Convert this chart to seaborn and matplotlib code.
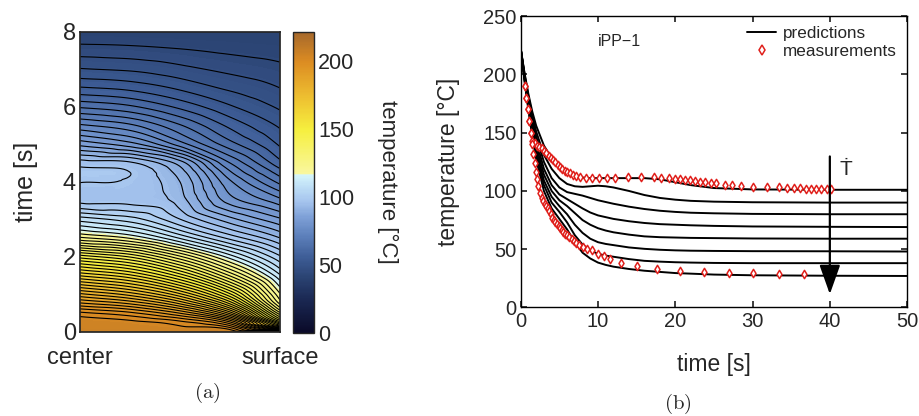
import numpy as np
import pandas as pd
import seaborn as sns
import matplotlib.pyplot as plt
import matplotlib.tri as mtri
from matplotlib.colors import LinearSegmentedColormap, Normalize
from matplotlib.cm import ScalarMappable
from matplotlib.lines import Line2D

# ---- (a) temperature field on a coarse grid
pos = [0.0, 0.25, 0.5, 0.75, 1.0]  # center -> surface
field_time = [0, 0.1, 0.25, 0.5, 0.75, 1.0, 1.5, 2.0, 2.5, 3.0, 3.5,
              4.0, 4.25, 4.5, 5.0, 5.5, 6.0, 6.5, 7.0, 7.5, 8.0]
field_temp = [
    [206, 206, 206, 205.5, 205],
    [205.5, 205, 203.5, 200, 170],
    [205, 203.5, 200.5, 191, 150],
    [200, 197, 190, 174, 134],
    [191, 187, 178, 160, 124],
    [182, 177, 167, 149, 119],
    [163, 158, 147, 130, 110],
    [144, 139, 128, 114, 101],
    [122, 118, 109, 99.5, 91.5],
    [108, 104.8, 97.5, 89.5, 83],
    [96.5, 96.3, 93, 81, 74.5],
    [97.6, 97, 91.5, 77, 66.5],
    [98.5, 97.5, 90, 74, 63],
    [96, 95, 87, 70.5, 59.5],
    [84.5, 80.7, 72, 62.7, 55],
    [74, 71.1, 64.8, 57.7, 52],
    [64, 62, 57.7, 52.9, 49],
    [55.8, 54.6, 51.9, 48.9, 46.5],
    [49.7, 49, 47.4, 45.7, 44.3],
    [45, 44.6, 43.8, 42.9, 42.2],
    [40.5, 40.4, 40.3, 40.2, 40],
]

# ---- (b) predicted cooling curves (one per cooling rate) and measurements
pred_time = [0, 0.5, 1, 1.5, 2, 3, 4, 5, 6, 7, 8, 9, 10, 11, 12, 14, 16, 18, 20, 22, 25, 30, 40, 50]
pred_1 = [222, 201, 183, 168, 156, 139, 128, 121, 116, 113, 111.5, 111, 111, 111, 111, 111, 111, 110, 107.5, 105, 102.5, 101.3, 101, 101]
pred_2 = [222, 200, 181, 165, 151, 131, 119, 111, 106, 104, 103.5, 104, 104.5, 104, 103, 100, 96.5, 94, 92.5, 91.5, 90.8, 90.3, 90, 90]
pred_3 = [222, 199, 179, 162, 147, 125, 111, 103, 99, 97.5, 96, 94, 92, 90.5, 89, 86.5, 84.5, 83, 82, 81.3, 80.8, 80.3, 80, 80]
pred_4 = [222, 198, 177, 159, 143, 119, 105, 97, 93, 89, 85, 81.5, 79, 77.5, 76, 74, 72.5, 71.5, 71, 70.5, 70, 69.5, 69.2, 69]
pred_5 = [222, 197, 175, 156, 139, 114, 100, 92, 87, 81, 75, 71, 68, 66, 64.5, 62.5, 61, 60.3, 60, 59.7, 59.5, 59.2, 59, 59]
pred_6 = [222, 196, 173, 153, 135, 109, 95, 87, 80, 71, 64, 59, 56, 54.5, 53.5, 51.5, 50.3, 49.5, 49, 48.7, 48.5, 48.3, 48.2, 48]
pred_7 = [222, 195, 171, 150, 131, 105, 90, 82, 73, 62, 54, 49, 46, 44.5, 43.5, 41.5, 40, 39.3, 38.8, 38.5, 38.2, 38, 38, 38]
pred_8 = [222, 194, 169, 147, 127, 100, 85, 76, 67, 56, 47, 42, 38.5, 36.5, 35, 33, 31.5, 30.5, 29.5, 29, 28.2, 27.6, 27.2, 27]

meas_hi_time = [0.5, 0.7, 0.9, 1.1, 1.3, 1.5, 1.8, 2.1, 2.4, 2.7, 3.0, 3.3, 3.6, 3.9, 4.2, 4.5, 4.8, 5.1,
                5.4, 5.7, 6.0, 6.4, 6.8, 7.2, 7.7, 8.4, 9.2, 10.1, 11.1, 12.2, 13.9, 15.6, 17.2, 18.2,
                19.2, 20.0, 20.6, 21.3, 21.9, 22.5, 23.2, 23.9, 24.6, 25.3, 26.4, 27.4, 28.5, 30.0,
                31.9, 33.4, 34.5, 35.3, 36.1, 36.9, 37.5, 38.2, 38.9, 39.6, 40.1]
meas_hi_temp = [190, 180, 170, 160, 150, 143, 141, 139, 138, 136.5, 134.5, 132.5, 130, 128, 126.5, 124.5,
                122.5, 120.7, 119, 117.5, 116.4, 115, 113.6, 113, 112, 111.5, 111, 111, 111, 111.5, 112,
                112, 112, 111.5, 111, 110.5, 110, 109.5, 109, 108.5, 108, 107.5, 107, 106.5, 105.5, 105,
                104, 103.5, 103.5, 103, 102.5, 102.5, 102.5, 102, 102, 102, 102, 102, 102]
meas_lo_time = [0.5, 0.7, 0.9, 1.1, 1.3, 1.5, 1.65, 1.8, 1.95, 2.1, 2.3, 2.5, 2.7, 2.9, 3.1, 3.3, 3.5,
                3.7, 3.9, 4.1, 4.3, 4.5, 4.7, 4.9, 5.1, 5.3, 5.5, 5.75, 6.0, 6.3, 6.6, 6.9, 7.2, 7.6,
                8.1, 8.6, 9.2, 10.0, 10.8, 11.6, 13.0, 15.0, 17.6, 20.6, 23.7, 26.9, 30.1, 33.4, 36.6]
meas_lo_temp = [190, 180, 170, 160, 150, 140, 132, 124, 116, 110, 104, 98, 94, 91, 89, 87, 85, 83, 80,
                77, 75, 73, 71.5, 70, 68, 66.5, 65, 63, 62, 60.5, 59, 57, 55, 54, 52, 50.5, 49, 46,
                44, 42, 38.5, 35.5, 33, 31.5, 30, 29.5, 29.3, 29, 28.3]

sns.set_theme(style="ticks")
plt.rcParams["font.family"] = ["Liberation Sans", "DejaVu Sans"]
plt.rcParams["mathtext.fontset"] = "cm"
plt.rcParams["xtick.direction"] = "in"
plt.rcParams["ytick.direction"] = "in"

fig = plt.figure(figsize=(9.2, 4.16), dpi=100)
ax1 = fig.add_axes([0.087, 0.203, 0.217, 0.721])
cax = fig.add_axes([0.319, 0.200, 0.022, 0.724])
ax2 = fig.add_axes([0.566, 0.261, 0.420, 0.700])

# colormap: dark navy -> light blue, jump to pale yellow -> orange -> brown
tmax = 222
cmap = LinearSegmentedColormap.from_list("temp", [
    (0.0, "#0a0a28"), (25 / tmax, "#1b2954"), (40 / tmax, "#2a4271"),
    (55 / tmax, "#3d5c95"), (70 / tmax, "#5a7db8"), (85 / tmax, "#7d9fd6"),
    (97 / tmax, "#a6c5ee"), (108 / tmax, "#bfdff6"), (116.5 / tmax, "#d6f6fb"),
    (117 / tmax, "#f9f7a0"), (150 / tmax, "#f6ef3e"), (175 / tmax, "#edbd30"),
    (200 / tmax, "#dc8c22"), (1.0, "#a5682c")])
norm = Normalize(0, tmax)

# smooth the coarse grid with matplotlib's own cubic refiner (grid scaled to square cells)
X, Y = np.meshgrid(pos, field_time)
tri = mtri.Triangulation(X.ravel() * 8, Y.ravel())
interp = mtri.CubicTriInterpolator(tri, np.array(field_temp, dtype=float).ravel(), kind="geom")
refiner = mtri.UniformTriRefiner(tri)
tri_f, z_f = refiner.refine_field(np.array(field_temp, dtype=float).ravel(),
                                  triinterpolator=interp, subdiv=4)
tri_f = mtri.Triangulation(tri_f.x / 8, tri_f.y, tri_f.triangles)

ax1.tricontourf(tri_f, z_f, levels=np.linspace(0, tmax, 150), cmap=cmap, norm=norm)
ax1.tricontour(tri_f, z_f, levels=np.arange(40.5 + 3, 204, 3), colors="black", linewidths=0.8)
ax1.set_xlim(0, 1)
ax1.set_ylim(0, 8)
ax1.set_xticks([0, 1])
ax1.set_xticklabels(["center", "surface"], fontsize=17)
ax1.set_yticks([0, 2, 4, 6, 8])
ax1.tick_params(axis="y", labelsize=17, length=0, pad=3)
ax1.tick_params(axis="x", length=0, pad=11)
ax1.set_ylabel("time [s]", fontsize=18, labelpad=18)

cb = fig.colorbar(ScalarMappable(norm=norm, cmap=cmap), cax=cax)
cb.set_ticks([0, 50, 100, 150, 200])
cb.ax.tick_params(labelsize=15.5, length=3, direction="in", pad=3)
cb.outline.set_linewidth(1.0)
cb.set_label("temperature [°C]", fontsize=16, rotation=270, labelpad=32)

# ---- (b)
curves = [pred_1, pred_2, pred_3, pred_4, pred_5, pred_6, pred_7, pred_8]
pred = pd.DataFrame({
    "time": np.tile(pred_time, len(curves)),
    "temp": np.concatenate(curves),
    "curve": np.repeat(np.arange(len(curves)), len(pred_time)),
})
sns.lineplot(data=pred, x="time", y="temp", units="curve", estimator=None,
             color="black", linewidth=1.4, ax=ax2, legend=False)

meas = pd.DataFrame({
    "time": meas_hi_time + meas_lo_time,
    "temp": meas_hi_temp + meas_lo_temp,
})
sns.scatterplot(data=meas, x="time", y="temp", marker="d", s=18, color="white",
                edgecolor="#e0201c", linewidth=1.1, ax=ax2, zorder=3, legend=False)

ax2.annotate("", xy=(40, 9), xytext=(40, 132),
             arrowprops=dict(arrowstyle="-|>,head_length=0.9,head_width=0.32",
                             color="black", lw=1.6, mutation_scale=20))
ax2.text(41.2, 118, "Ṫ", fontsize=15, ha="left", va="center")
ax2.text(10.0, 228, "iPP\u22121", fontsize=11.5, ha="left", va="center")

ax2.set_xlim(0, 50)
ax2.set_ylim(0, 250)
ax2.set_xticks(range(0, 51, 10))
ax2.set_yticks(range(0, 251, 50))
ax2.tick_params(labelsize=14.5, length=4, top=True, right=True, pad=3)
ax2.set_xlabel("time [s]", fontsize=16.5, labelpad=16)
ax2.set_ylabel("temperature [°C]", fontsize=16.5, labelpad=17)
for sp in ax2.spines.values():
    sp.set_visible(True)
    sp.set_linewidth(1.0)
    sp.set_color("black")

handles = [Line2D([], [], color="black", lw=1.4),
           Line2D([], [], marker="d", ls="", markersize=5, markerfacecolor="white",
                  markeredgecolor="#e0201c", markeredgewidth=1.1)]
ax2.legend(handles, ["predictions", "measurements"], loc="upper right", frameon=False,
           fontsize=12.3, handlelength=1.7, handletextpad=0.4, borderaxespad=0.2,
           labelspacing=0.15)

fig.text(207 / 920, 1 - 393 / 416, r"$\mathrm{(a)}$", fontsize=15, ha="center", va="center")
fig.text(678 / 920, 1 - 404 / 416, r"$\mathrm{(b)}$", fontsize=15, ha="center", va="center")

fig.savefig("out.png", dpi=100)
